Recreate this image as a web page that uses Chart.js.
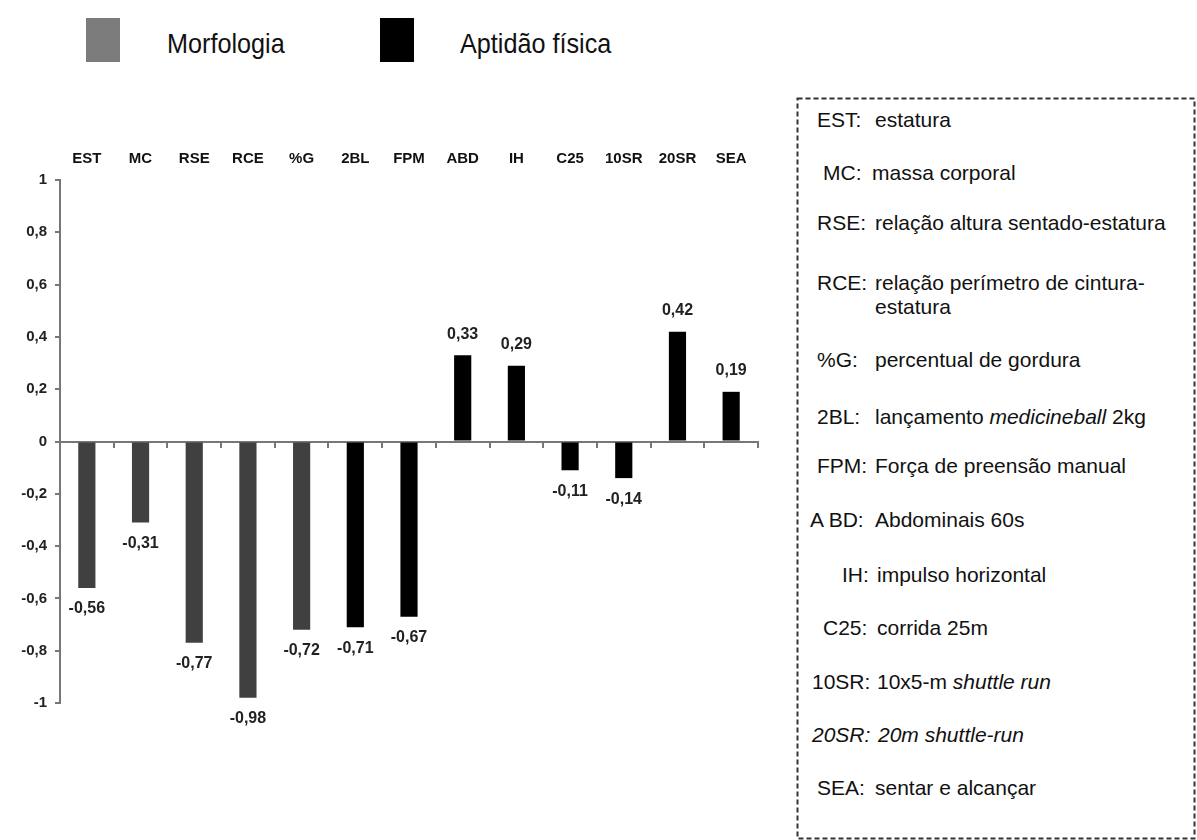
<!DOCTYPE html>
<html><head><meta charset="utf-8">
<script src="https://cdn.jsdelivr.net/npm/chart.js@4.4.0/dist/chart.umd.min.js"></script>
<style>
html,body{margin:0;padding:0;background:#fff;width:1197px;height:840px;overflow:hidden;font-family:"Liberation Sans",Arial,sans-serif;}
#wrap{position:absolute;left:0;top:0;width:790px;height:840px;}
.sw{position:absolute;width:34px;height:44px;top:18px;}
.lg{position:absolute;font-size:28px;color:#111;line-height:28px;top:30px;white-space:nowrap;transform:scaleX(0.9);transform-origin:left center;}
#box{position:absolute;left:796px;top:97px;}
.row{position:absolute;font-size:21px;line-height:26px;color:#111;white-space:nowrap;}
</style></head>
<body>
<div class="sw" style="left:86px;background:#7b7b7b;"></div>
<div class="lg" style="left:167px;">Morfologia</div>
<div class="sw" style="left:380px;background:#000;"></div>
<div class="lg" style="left:460px;">Aptidão física</div>

<div id="wrap"><canvas id="c" width="790" height="840"></canvas></div>

<svg id="box" width="400" height="743"><rect x="1.5" y="1.5" width="397" height="740" fill="none" stroke="#333" stroke-width="2" stroke-dasharray="5 3"/></svg>
<div class="row" style="left:817px;top:107px;">EST:</div><div class="row" style="left:875px;top:107px;">estatura</div>
<div class="row" style="left:823px;top:160px;">MC:</div><div class="row" style="left:872px;top:160px;">massa corporal</div>
<div class="row" style="left:817px;top:210px;">RSE:</div><div class="row" style="left:875px;top:210px;">relação altura sentado-estatura</div>
<div class="row" style="left:817px;top:270px;">RCE:</div><div class="row" style="left:875px;top:270px;">relação perímetro de cintura-</div>
<div class="row" style="left:875px;top:294px;">estatura</div>
<div class="row" style="left:817px;top:347px;">%G:</div><div class="row" style="left:875px;top:347px;">percentual de gordura</div>
<div class="row" style="left:817px;top:404px;">2BL:</div><div class="row" style="left:875px;top:404px;">lançamento <i>medicineball</i> 2kg</div>
<div class="row" style="left:817px;top:453px;">FPM:</div><div class="row" style="left:875px;top:453px;">Força de preensão manual</div>
<div class="row" style="left:810px;top:507px;">A BD:</div><div class="row" style="left:875px;top:507px;">Abdominais 60s</div>
<div class="row" style="left:842px;top:562px;">IH:</div><div class="row" style="left:877px;top:562px;">impulso horizontal</div>
<div class="row" style="left:823px;top:615px;">C25:</div><div class="row" style="left:877px;top:615px;">corrida 25m</div>
<div class="row" style="left:812px;top:669px;">10SR:</div><div class="row" style="left:877px;top:669px;">10x5-m <i>shuttle run</i></div>
<div class="row" style="left:812px;top:722px;"><i>20SR:</i></div><div class="row" style="left:878px;top:722px;"><i>20m shuttle-run</i></div>
<div class="row" style="left:817px;top:775px;">SEA:</div><div class="row" style="left:875px;top:775px;">sentar e alcançar</div>

<script>
const categories = ['EST','MC','RSE','RCE','%G','2BL','FPM','ABD','IH','C25','10SR','20SR','SEA'];
const morfologia = [-0.56,-0.31,-0.77,-0.98,-0.72,null,null,null,null,null,null,null,null];
const aptidao    = [null,null,null,null,null,-0.71,-0.67,0.33,0.29,-0.11,-0.14,0.42,0.19];
const yTicks = [-1,-0.8,-0.6,-0.4,-0.2,0,0.2,0.4,0.6,0.8,1];

const fmtTick = v => String(Number(v.toFixed(1))).replace('.', ',');
const fmtVal = v => v.toFixed(2).replace('.', ',');

const valueLabels = {
  id: 'valueLabels',
  afterDatasetsDraw(chart) {
    const ctx = chart.ctx;
    ctx.save();
    ctx.font = 'bold 16px "Liberation Sans", Arial, sans-serif';
    ctx.fillStyle = '#222';
    ctx.textAlign = 'center';
    ctx.textBaseline = 'middle';
    chart.data.datasets.forEach((ds, i) => {
      const meta = chart.getDatasetMeta(i);
      meta.data.forEach((el, j) => {
        const v = ds.data[j];
        if (v === null || v === undefined) return;
        ctx.fillText(fmtVal(v), el.x, el.y + (v < 0 ? 21 : -21));
      });
    });
    ctx.restore();
  }
};

new Chart(document.getElementById('c'), {
  type: 'bar',
  data: {
    labels: categories,
    datasets: [
      { label: 'Morfologia', data: morfologia, backgroundColor: '#404040', grouped: false, barPercentage: 0.32, categoryPercentage: 1 },
      { label: 'Aptidão física', data: aptidao, backgroundColor: '#000000', grouped: false, barPercentage: 0.32, categoryPercentage: 1 }
    ]
  },
  options: {
    responsive: false,
    animation: false,
    layout: { padding: { left: 0, right: 32, top: 130, bottom: 137 } },
    plugins: { legend: { display: false }, tooltip: { enabled: false } },
    scales: {
      x: {
        type: 'category', position: 'top',
        grid: { display: false }, border: { display: false },
        ticks: { font: { size: 15, weight: 'bold', family: '"Liberation Sans", Arial, sans-serif' }, color: '#111', padding: 4, maxRotation: 0, autoSkip: false },
        afterFit(s) { s.height = 50; }
      },
      xz: {
        type: 'category', position: { y: 0 },
        grid: { display: true, drawOnChartArea: false, drawTicks: true, tickLength: 5, offset: true, color: '#777', lineWidth: 2 },
        border: { color: '#777', width: 2 },
        ticks: { display: false },
        afterFit(s) { s.height = 0; }
      },
      y: {
        min: -1, max: 1,
        afterBuildTicks(s) { s.ticks = yTicks.map(v => ({ value: v })); },
        grid: { drawOnChartArea: false, drawTicks: true, tickLength: 5, color: '#777', lineWidth: 2 },
        border: { color: '#777', width: 2 },
        ticks: { font: { size: 15, weight: 'bold', family: '"Liberation Sans", Arial, sans-serif' }, color: '#222', padding: 8, callback: v => fmtTick(v) },
        afterFit(s) { s.width = 60; }
      }
    }
  },
  plugins: [valueLabels]
});
</script>
</body></html>
